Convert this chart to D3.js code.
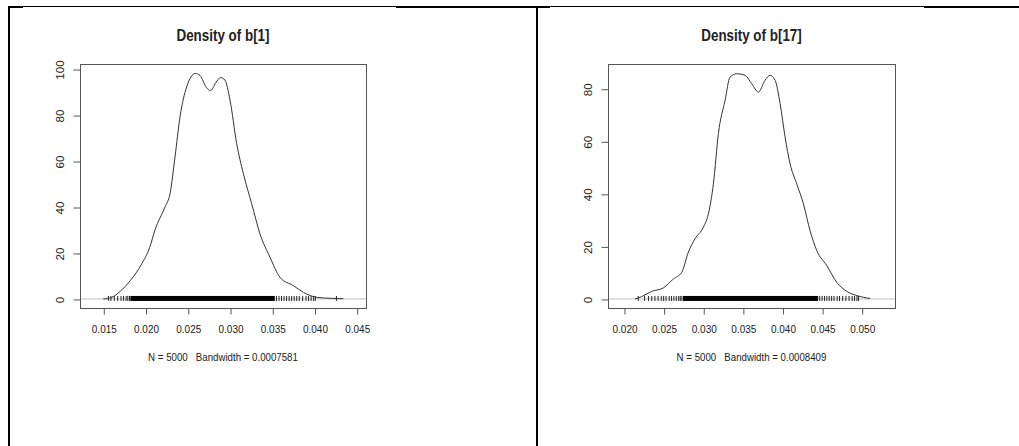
<!DOCTYPE html>
<html>
<head>
<meta charset="utf-8">
<script src="https://cdn.jsdelivr.net/npm/d3@7"></script>
<style>
  body { margin: 0; background: #fff; }
  text { font-family: "Liberation Sans", Arial, sans-serif; fill: #222; }
</style>
</head>
<body>
<div class="canvas"></div>
<script>
// ---- data ----
const titles = ["Density of b[1]", "Density of b[17]"]
const subtitles = ["N = 5000   Bandwidth = 0.0007581", "N = 5000   Bandwidth = 0.0008409"]

// panel 1: b[1]
const x1 = [0.0150, 0.0160, 0.0170, 0.0182, 0.01955, 0.0205, 0.0211, 0.0223, 0.0229, 0.02349, 0.02408,
  0.02487, 0.0259, 0.02645, 0.0272, 0.0277, 0.0283, 0.0289, 0.0294, 0.0300, 0.03079, 0.03158,
  0.03257, 0.03355, 0.03474, 0.03592, 0.0375, 0.03868, 0.04027, 0.04184, 0.04342]
const dens1 = [0, 0.7, 3.3, 8, 15.3, 22.5, 29.8, 40, 45.8, 61.8, 79.2,
  92.3, 98.1, 97.2, 92.0, 90.6, 94.0, 96.3, 95.2, 86.5, 67.6, 54.5,
  41.4, 28.3, 18.1, 9.4, 5.8, 2.9, 0.7, 0.3, 0.1]
const rugSparse1 = [0.0156, 0.0159, 0.0163, 0.0167, 0.0171, 0.0174, 0.0177, 0.0179, 0.0181,
  0.0355, 0.0358, 0.0361, 0.0364, 0.0367, 0.0370, 0.0373, 0.0376, 0.0379, 0.0382, 0.0386,
  0.0390, 0.0393, 0.0396, 0.0399, 0.0401, 0.0426]
const rugDense1 = [0.0182, 0.0353]
const xTicks1 = [0.015, 0.020, 0.025, 0.030, 0.035, 0.040, 0.045]
const yTicks1 = [0, 20, 40, 60, 80, 100]

// panel 2: b[17]
const x2 = [0.02139, 0.02223, 0.0235, 0.02496, 0.02623, 0.02728, 0.02812, 0.02896, 0.03002, 0.03065,
  0.03128, 0.03191, 0.03275, 0.03338, 0.03423, 0.03528, 0.03612, 0.03696, 0.0378, 0.03843,
  0.03907, 0.0397, 0.04033, 0.04096, 0.0418, 0.04264, 0.04348, 0.04433, 0.04559, 0.04686,
  0.04812, 0.04938, 0.05106]
const dens2 = [0, 0.9, 2.9, 4.2, 7.6, 10.1, 17.8, 22.9, 27.3, 32.4,
  43.8, 62.9, 75.5, 84.4, 85.7, 85.1, 81.9, 78.7, 83.2, 85.1,
  83.2, 74.3, 61.6, 51.4, 43.8, 36.2, 26, 18.4, 12.7, 6.3,
  2.9, 1.3, 0.2]
const rugSparse2 = [0.0218, 0.0226, 0.0231, 0.0235, 0.0239, 0.0243, 0.0247, 0.0250, 0.0253, 0.0257,
  0.0260, 0.0263, 0.0266, 0.0269, 0.0271, 0.0273,
  0.0447, 0.0450, 0.0453, 0.0456, 0.0459, 0.0462, 0.0465, 0.0469, 0.0472, 0.0476,
  0.0480, 0.0484, 0.0488, 0.0491, 0.0494, 0.0496]
const rugDense2 = [0.02745, 0.0445]
const xTicks2 = [0.020, 0.025, 0.030, 0.035, 0.040, 0.045, 0.050]
const yTicks2 = [0, 20, 40, 60, 80]

const width = 1019
const height = 446
// the screenshot is a bit stretched vertically, text included
const stretch = 1.17

const svg = d3.select(".canvas").append("svg")
    .attr("width", width)
    .attr("height", height)

// table-like frame around the two figures
const frame = svg.append("g").attr("fill", "#000")
frame.append("rect").attr("x", 8).attr("y", 6).attr("width", 2).attr("height", height - 6)
frame.append("rect").attr("x", 536).attr("y", 6).attr("width", 2).attr("height", height - 6)
const topSegs = [[8, 23, 2], [23, 396, 1], [396, 550, 2], [550, 924, 1], [924, 1019, 2]]
topSegs.forEach(s => {
    frame.append("rect").attr("x", s[0]).attr("y", 6).attr("width", s[1] - s[0]).attr("height", s[2])
})

const panels = [
    { title: titles[0], sub: subtitles[0], xs: x1, ys: dens1, sparse: rugSparse1, dense: rugDense1,
      xt: xTicks1, yt: yTicks1, left: 80, right: 366, xdom: [0.01224, 0.0461], ydom: [-3.93, 102.2] },
    { title: titles[1], sub: subtitles[1], xs: x2, ys: dens2, sparse: rugSparse2, dense: rugDense2,
      xt: xTicks2, yt: yTicks2, left: 608, right: 895, xdom: [0.01798, 0.0542], ydom: [-3.44, 89.4] }
]

const plotTop = 64, plotBottom = 308

panels.forEach(p => {
    const g = svg.append("g")
    const x = d3.scaleLinear().domain(p.xdom).range([p.left, p.right])
    const y = d3.scaleLinear().domain(p.ydom).range([plotBottom, plotTop])
    const cx = (p.left + p.right) / 2

    // zero line
    g.append("line")
        .attr("x1", p.left).attr("x2", p.right)
        .attr("y1", y(0)).attr("y2", y(0))
        .attr("stroke", "#bebebe").attr("stroke-width", 1)

    // rug
    g.append("rect")
        .attr("x", x(p.dense[0])).attr("y", y(0) - 3)
        .attr("width", x(p.dense[1]) - x(p.dense[0])).attr("height", 5)
        .attr("fill", "#000")
    g.selectAll(".rug").data(p.sparse).enter().append("line")
        .attr("x1", d => x(d)).attr("x2", d => x(d))
        .attr("y1", y(0) - 3).attr("y2", y(0) + 2)
        .attr("stroke", "#222").attr("stroke-width", 1)

    // density curve
    const line = d3.line()
        .x((d, i) => x(p.xs[i]))
        .y(d => y(d))
        .curve(d3.curveMonotoneX)
    g.append("path")
        .attr("d", line(p.ys))
        .attr("fill", "none")
        .attr("stroke", "#333")
        .attr("stroke-width", 1)

    // box
    g.append("rect")
        .attr("x", p.left + 0.5).attr("y", plotTop + 0.5)
        .attr("width", p.right - p.left).attr("height", plotBottom - plotTop)
        .attr("fill", "none").attr("stroke", "#555").attr("stroke-width", 1)

    // axes
    const xAxis = g.append("g")
        .attr("transform", `translate(0.5,${plotBottom + 0.5})`)
        .call(d3.axisBottom(x).tickValues(p.xt).tickFormat(d3.format(".3f")).tickSize(6))
    const yAxis = g.append("g")
        .attr("transform", `translate(${p.left + 0.5},0.5)`)
        .call(d3.axisLeft(y).tickValues(p.yt).tickSize(7))
    ;[xAxis, yAxis].forEach(a => {
        a.select(".domain").remove()
        a.selectAll("line").attr("stroke", "#555")
        a.selectAll("text").attr("fill", "#222").style("font-size", "10px")
            .style("font-family", '"Liberation Sans", Arial, sans-serif')
            .attr("x", null).attr("y", null).attr("dy", null)
            .attr("text-anchor", "middle")
            .attr("dominant-baseline", "central")
    })
    xAxis.selectAll(".tick text")
        .attr("transform", `translate(0,20.5) scale(1,${stretch})`)
    // rotated y labels like R does
    yAxis.selectAll(".tick text")
        .attr("transform", `translate(-20,0) scale(1,${stretch}) rotate(-90)`)

    // title and subtitle
    g.append("text")
        .attr("transform", `translate(${cx},36) scale(1,${stretch})`)
        .attr("text-anchor", "middle")
        .attr("dominant-baseline", "central")
        .style("font-weight", "bold").style("font-size", "13.4px")
        .attr("fill", "#111")
        .text(p.title)
    g.append("text")
        .attr("transform", `translate(${cx},357) scale(1,${stretch})`)
        .attr("text-anchor", "middle")
        .attr("dominant-baseline", "central")
        .style("font-size", "9.7px")
        .style("white-space", "pre")
        .text(p.sub)
})
</script>
</body>
</html>
